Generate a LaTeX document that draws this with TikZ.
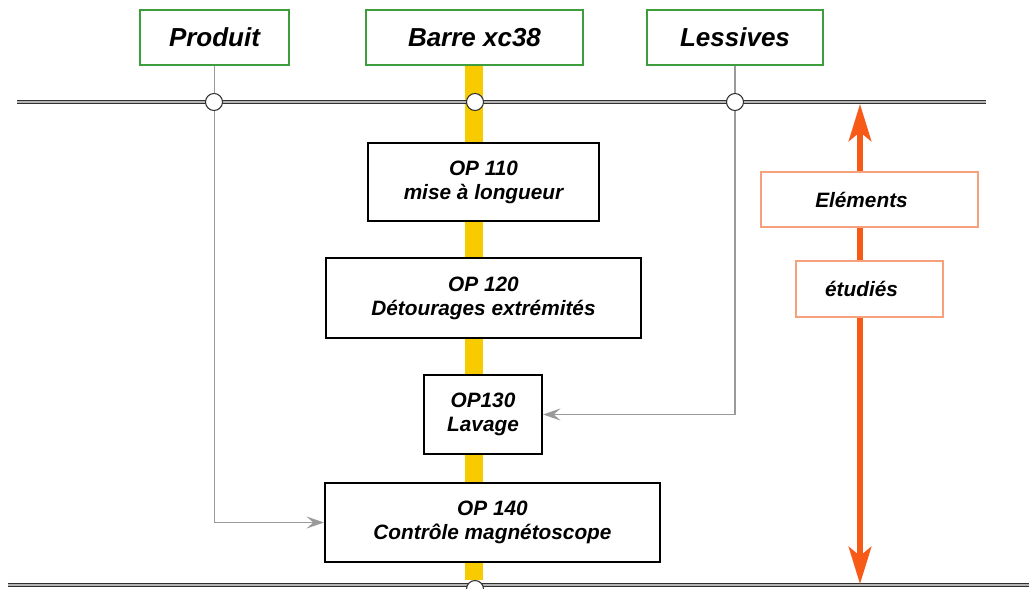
\documentclass[tikz,border=0pt]{standalone}
\usepackage{fontspec}
\setmainfont{Liberation Sans}
\usetikzlibrary{arrows.meta}
\definecolor{boxgreen}{HTML}{3E9E3E}
\definecolor{barjaune}{HTML}{F8CB00}
\definecolor{flux}{HTML}{9A9A9A}
\definecolor{orangevif}{HTML}{F75A17}
\definecolor{saumon}{HTML}{F7A07C}
\definecolor{rail}{HTML}{303030}
\definecolor{railmid}{HTML}{B5B5B5}
\begin{document}
\begin{tikzpicture}[x=0.75pt,y=-0.75pt,
  every node/.style={font=\bfseries\itshape, inner sep=0pt, align=center},
  entree/.style={draw=boxgreen, line width=0.8pt, fill=white, minimum height=55*0.75pt, font=\fontsize{19.5}{22}\selectfont\bfseries\itshape},
  operation/.style={draw=black, line width=1.6pt, fill=white, font=\fontsize{15.6}{18}\selectfont\bfseries\itshape},
  etiquette/.style={draw=saumon, line width=1pt, fill=white, font=\fontsize{15.6}{18}\selectfont\bfseries\itshape},
  railstyle/.style={draw=rail, line width=1.2pt, double=railmid, double distance=1pt},
  jonction/.style={circle, draw=rail, line width=0.8pt, fill=white, minimum size=17*0.75pt},
  fleche/.style={draw=flux, line width=1.3pt, -{Stealth[length=13pt, width=9pt, inset=5pt]}},
  borne/.style={draw=orangevif, line width=3.8pt, {Stealth[length=28pt, width=17pt, inset=7pt]}-{Stealth[length=28pt, width=17pt, inset=7pt]}}
]
\useasboundingbox (0,0) rectangle (1029,589);

% rails, material flow and study limits
\coordinate (rtl) at (17,102);
\coordinate (rtr) at (986,102);
\coordinate (rbl) at (8,585);
\coordinate (rbr) at (1040,585);
\coordinate (bartop) at (474,65);
\coordinate (barbot) at (474,580);
\coordinate (atop) at (860,104);
\coordinate (abot) at (860,584);

% yellow material flow, behind everything
\draw[barjaune, line width=13.5pt] (bartop) -- (barbot);

% rails
\draw[railstyle] (rtl) -- (rtr);
\draw[railstyle] (rbl) -- (rbr);

% inputs
\node[entree, minimum width=149*0.75pt] (produit) at (214.5,37.5) {Produit};
\node[entree, minimum width=217*0.75pt] (barre) at (474.5,37.5) {Barre xc38};
\node[entree, minimum width=176*0.75pt] (lessives) at (735,37.5) {Lessives};

% operations
\node[operation, minimum width=231*0.75pt, minimum height=78*0.75pt] (op110) at (483.5,182) {OP 110\\mise à longueur};
\node[operation, minimum width=315*0.75pt, minimum height=80*0.75pt] (op120) at (483.5,298) {OP 120\\Détourages extrémités};
\node[operation, minimum width=118*0.75pt, minimum height=79*0.75pt] (op130) at (483,414.5) {OP130\\Lavage};
\node[operation, minimum width=335*0.75pt, minimum height=79*0.75pt] (op140) at (492.5,522.5) {OP 140\\Contrôle magnétoscope};

% secondary flows
\draw[fleche] (produit.south) |- (op140.west);
\draw[fleche] (lessives.south) |- (op130.east);

% junction circles
\node[jonction] (j1) at (214,102) {};
\node[jonction] (j2) at (475,102) {};
\node[jonction] (j3) at (735,102) {};
\node[jonction] (j4) at (475,589) {};

% scope of the study
\draw[borne] (atop) -- (abot);
\node[etiquette, minimum width=217*0.75pt, minimum height=55*0.75pt] (elem) at (869.5,199.5) {\hspace*{-12pt}Eléments};
\node[etiquette, minimum width=147*0.75pt, minimum height=56*0.75pt] (etud) at (869.5,289) {\hspace*{-12pt}étudiés};
\end{tikzpicture}
\end{document}
